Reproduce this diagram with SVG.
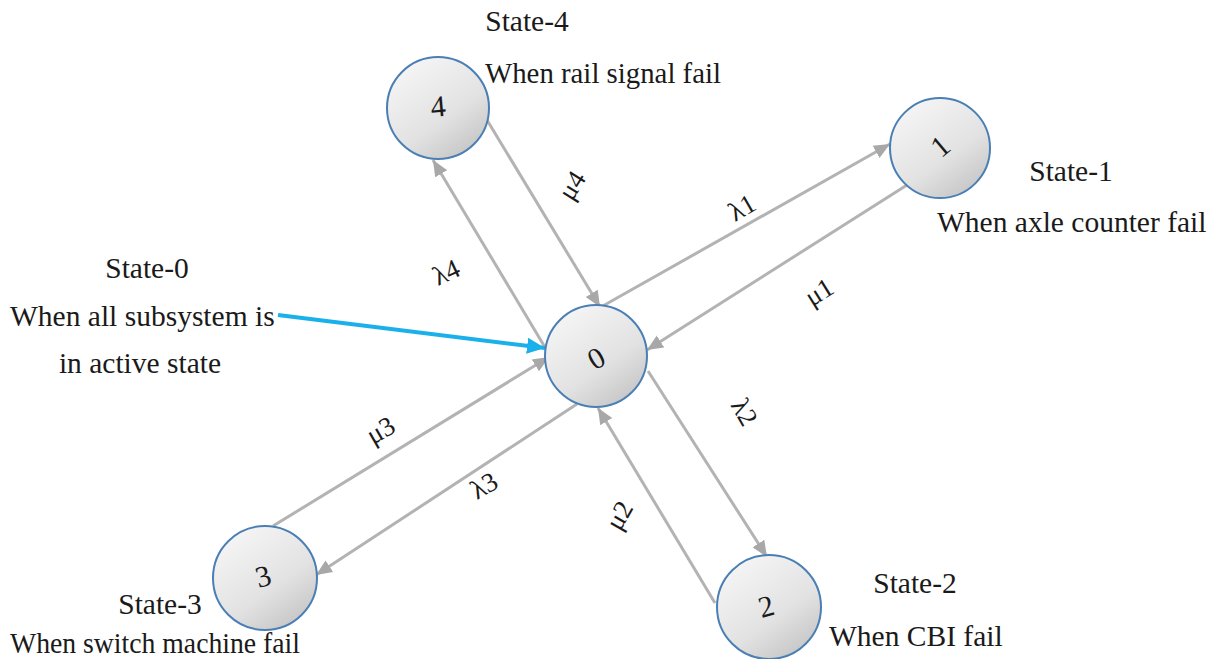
<svg xmlns="http://www.w3.org/2000/svg" width="1219" height="659" viewBox="0 0 1219 659">
  <style>
    .txt { font-family: "Liberation Serif", "Times New Roman", serif; font-size: 29.5px; fill: #1a1a1a; }
    .lbl { font-family: "Liberation Serif", "Times New Roman", serif; font-size: 27px; fill: #1a1a1a; }
    .num { font-family: "Liberation Serif", "Times New Roman", serif; font-size: 30px; fill: #1a1a1a; text-anchor: middle; dominant-baseline: central; }
    .node { fill: url(#nodeFill); stroke: #4a7fb5; stroke-width: 2; }
    .edge { stroke: #b3b3b3; stroke-width: 3; fill: none; marker-end: url(#grayHead); }
    .pointer { stroke: #1ab0ea; stroke-width: 4; fill: none; marker-end: url(#blueHead); }
  </style>
  <defs>
    <linearGradient id="nodeFill" x1="0.2" y1="0.1" x2="0.8" y2="0.95">
      <stop offset="0" stop-color="#f4f4f4"/>
      <stop offset="0.6" stop-color="#e2e2e2"/>
      <stop offset="1" stop-color="#c6c6c6"/>
    </linearGradient>
    <marker id="grayHead" markerUnits="userSpaceOnUse" markerWidth="18" markerHeight="16" refX="16" refY="8" orient="auto">
      <path d="M0,1 L16,8 L0,15 Z" fill="#a8a8a8"/>
    </marker>
    <marker id="blueHead" markerUnits="userSpaceOnUse" markerWidth="20" markerHeight="18" refX="18" refY="9" orient="auto">
      <path d="M0,1 L18,9 L0,17 Z" fill="#1ab0ea"/>
    </marker>
  </defs>

  <!-- transition arrows -->
  <g id="connectors">
    <line class="edge" x1="601" y1="307" x2="890" y2="144"/>
    <line class="edge" x1="907" y1="185" x2="647" y2="350"/>
    <line class="edge" x1="648" y1="371" x2="767" y2="557"/>
    <line class="edge" x1="715" y1="603" x2="598" y2="408"/>
    <line class="edge" x1="577" y1="404" x2="316" y2="575"/>
    <line class="edge" x1="273" y1="526" x2="549" y2="357"/>
    <line class="edge" x1="546" y1="349" x2="433" y2="160"/>
    <line class="edge" x1="487" y1="120" x2="600" y2="307"/>
    <line class="pointer" x1="278" y1="315" x2="545" y2="348"/>
    <!-- rate labels -->
    <text class="lbl" transform="translate(735,222) rotate(-30)">λ1</text>
    <text class="lbl" transform="translate(812,307) rotate(-32)">μ1</text>
    <text class="lbl" transform="translate(730,405) rotate(60)">λ2</text>
    <text class="lbl" transform="translate(620,532) rotate(-60)">μ2</text>
    <text class="lbl" transform="translate(477,500) rotate(-30)">λ3</text>
    <text class="lbl" transform="translate(373,445) rotate(-30)">μ3</text>
    <text class="lbl" transform="translate(438,286) rotate(-25)">λ4</text>
    <text class="lbl" transform="translate(572,202) rotate(-58)">μ4</text>
  </g>

  <g id="state0">
    <circle class="node" cx="596" cy="356" r="51"/>
    <text class="num" transform="translate(596,358) rotate(-30)">0</text>
    <text class="txt" x="147" y="278" text-anchor="middle">State-0</text>
    <text class="txt" x="10" y="326">When all subsystem is</text>
    <text class="txt" x="140" y="373" text-anchor="middle">in active state</text>
  </g>

  <g id="state1">
    <circle class="node" cx="940" cy="148" r="50"/>
    <text class="num" transform="translate(940,146) rotate(-40)">1</text>
    <text class="txt" x="1071" y="181" text-anchor="middle">State-1</text>
    <text class="txt" x="937" y="232">When axle counter fail</text>
  </g>

  <g id="state2">
    <circle class="node" cx="769" cy="607" r="52"/>
    <text class="num" transform="translate(766,606) rotate(-15)">2</text>
    <text class="txt" x="915" y="593" text-anchor="middle">State-2</text>
    <text class="txt" x="829" y="646">When CBI fail</text>
  </g>

  <g id="state3">
    <circle class="node" cx="265" cy="578" r="52"/>
    <text class="num" transform="translate(263,576) rotate(-15)">3</text>
    <text class="txt" x="160" y="614" text-anchor="middle">State-3</text>
    <text class="txt" x="10" y="653" textLength="290" lengthAdjust="spacingAndGlyphs">When switch machine fail</text>
  </g>

  <g id="state4">
    <circle class="node" cx="438" cy="108" r="51"/>
    <text class="num" transform="translate(438,106) rotate(-5)">4</text>
    <text class="txt" x="527" y="31" text-anchor="middle">State-4</text>
    <text class="txt" x="485" y="83" textLength="236" lengthAdjust="spacingAndGlyphs">When rail signal fail</text>
  </g>
</svg>
